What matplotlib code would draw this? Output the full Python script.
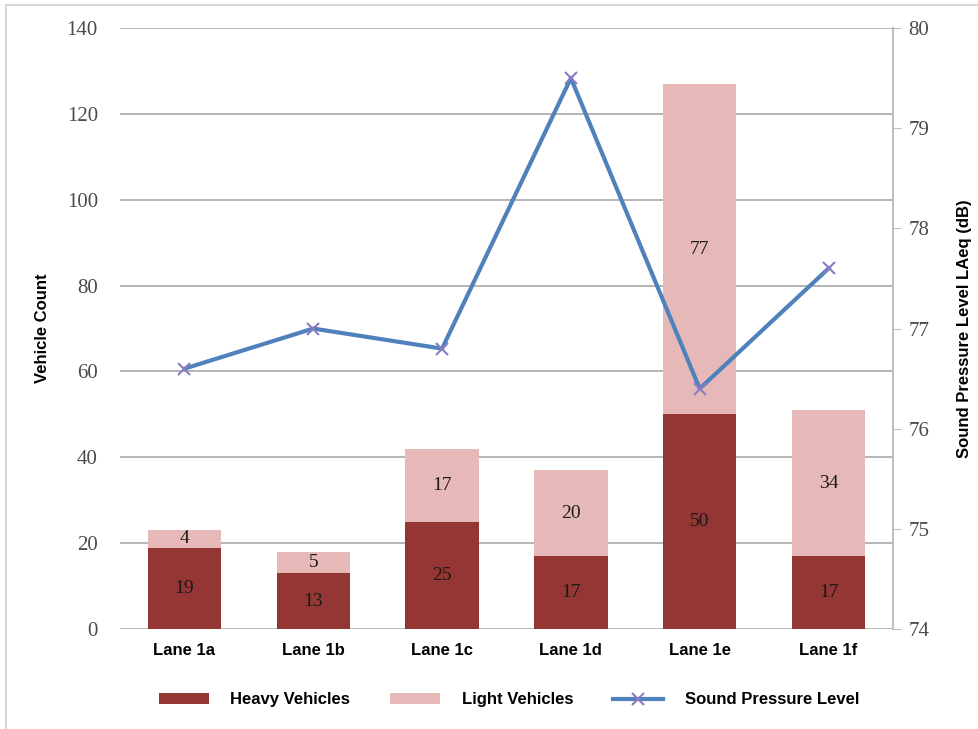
import numpy as np
import matplotlib.pyplot as plt
from matplotlib.patches import Rectangle

lanes = ['Lane 1a', 'Lane 1b', 'Lane 1c', 'Lane 1d', 'Lane 1e', 'Lane 1f']
heavy = [19, 13, 25, 17, 50, 17]
light = [4, 5, 17, 20, 77, 34]
spl = [76.6, 77.0, 76.8, 79.5, 76.4, 77.6]

heavy_col = '#943634'
light_col = '#E6B9B8'
line_col = '#4F81BD'

serif = ['Liberation Serif', 'DejaVu Serif']
sans = ['Liberation Sans', 'DejaVu Sans']

fig = plt.figure(figsize=(9.79, 7.29), dpi=100)
ax = fig.add_axes([0.1226, 0.137, 0.7895, 0.8246])

# light frame round the whole chart
fig.patches.append(Rectangle((0.006, -0.05), 1.1, 1.043, transform=fig.transFigure,
                             fill=False, edgecolor='#d0d0d0', linewidth=1.2))

x = np.arange(len(lanes))
w = 0.57
b1 = ax.bar(x, heavy, w, color=heavy_col, label='Heavy Vehicles', zorder=2)
b2 = ax.bar(x, light, w, bottom=heavy, color=light_col, label='Light Vehicles', zorder=2)

for i in range(len(lanes)):
    ax.text(x[i], heavy[i] / 2, str(heavy[i]), ha='center', va='center',
            family=serif, fontsize=14, color='#1a1a1a', zorder=3)
    ax.text(x[i], heavy[i] + light[i] / 2, str(light[i]), ha='center', va='center',
            family=serif, fontsize=14, color='#1a1a1a', zorder=3)

ax.set_xlim(-0.5, len(lanes) - 0.5)
ax.set_ylim(0, 140)
ax.set_yticks(range(0, 141, 20))
ax.yaxis.grid(True, color='#a0a0a0', linewidth=1.1)
ax.set_axisbelow(True)
for s in ['left', 'top', 'right', 'bottom']:
    ax.spines[s].set_visible(False)
ax.tick_params(axis='y', length=0, pad=16, labelsize=15, labelcolor='#4a4a4a')
ax.tick_params(axis='x', length=0, pad=10, labelsize=12)
for t in ax.get_yticklabels():
    t.set_family(serif)
ax.set_xticks(x)
ax.set_xticklabels(lanes, family=sans, fontweight='bold')
ax.set_ylabel('Vehicle Count', family=sans, fontweight='bold', fontsize=12, labelpad=12)

ax2 = ax.twinx()
ax2.plot(x, spl, color=line_col, linewidth=3, marker='x', markersize=9,
         markeredgecolor='#8a7cbf', markeredgewidth=1.5, label='Sound Pressure Level', zorder=4)
ax2.set_ylim(74, 80)
ax2.set_yticks(range(74, 81))
for s in ['left', 'top', 'bottom']:
    ax2.spines[s].set_visible(False)
ax2.spines['right'].set_color('#bfbfbf')
ax2.spines['right'].set_linewidth(1.5)
ax2.tick_params(axis='y', length=6, color='#bfbfbf', pad=5, labelsize=15, labelcolor='#4a4a4a')
for t in ax2.get_yticklabels():
    t.set_family(serif)
ax2.set_ylabel('Sound Pressure Level LAeq (dB)', family=sans, fontweight='bold',
               fontsize=12, labelpad=20)

handles = [b1, b2] + ax2.get_lines()
fig.legend(handles, [h.get_label() for h in handles], loc='center',
           bbox_to_anchor=(0.52, 0.04), ncol=3, frameon=False,
           prop={'family': sans, 'weight': 'bold', 'size': 12},
           handlelength=3, handleheight=0.6, columnspacing=2.4, handletextpad=1.3)

fig.savefig('out.png', dpi=100)
